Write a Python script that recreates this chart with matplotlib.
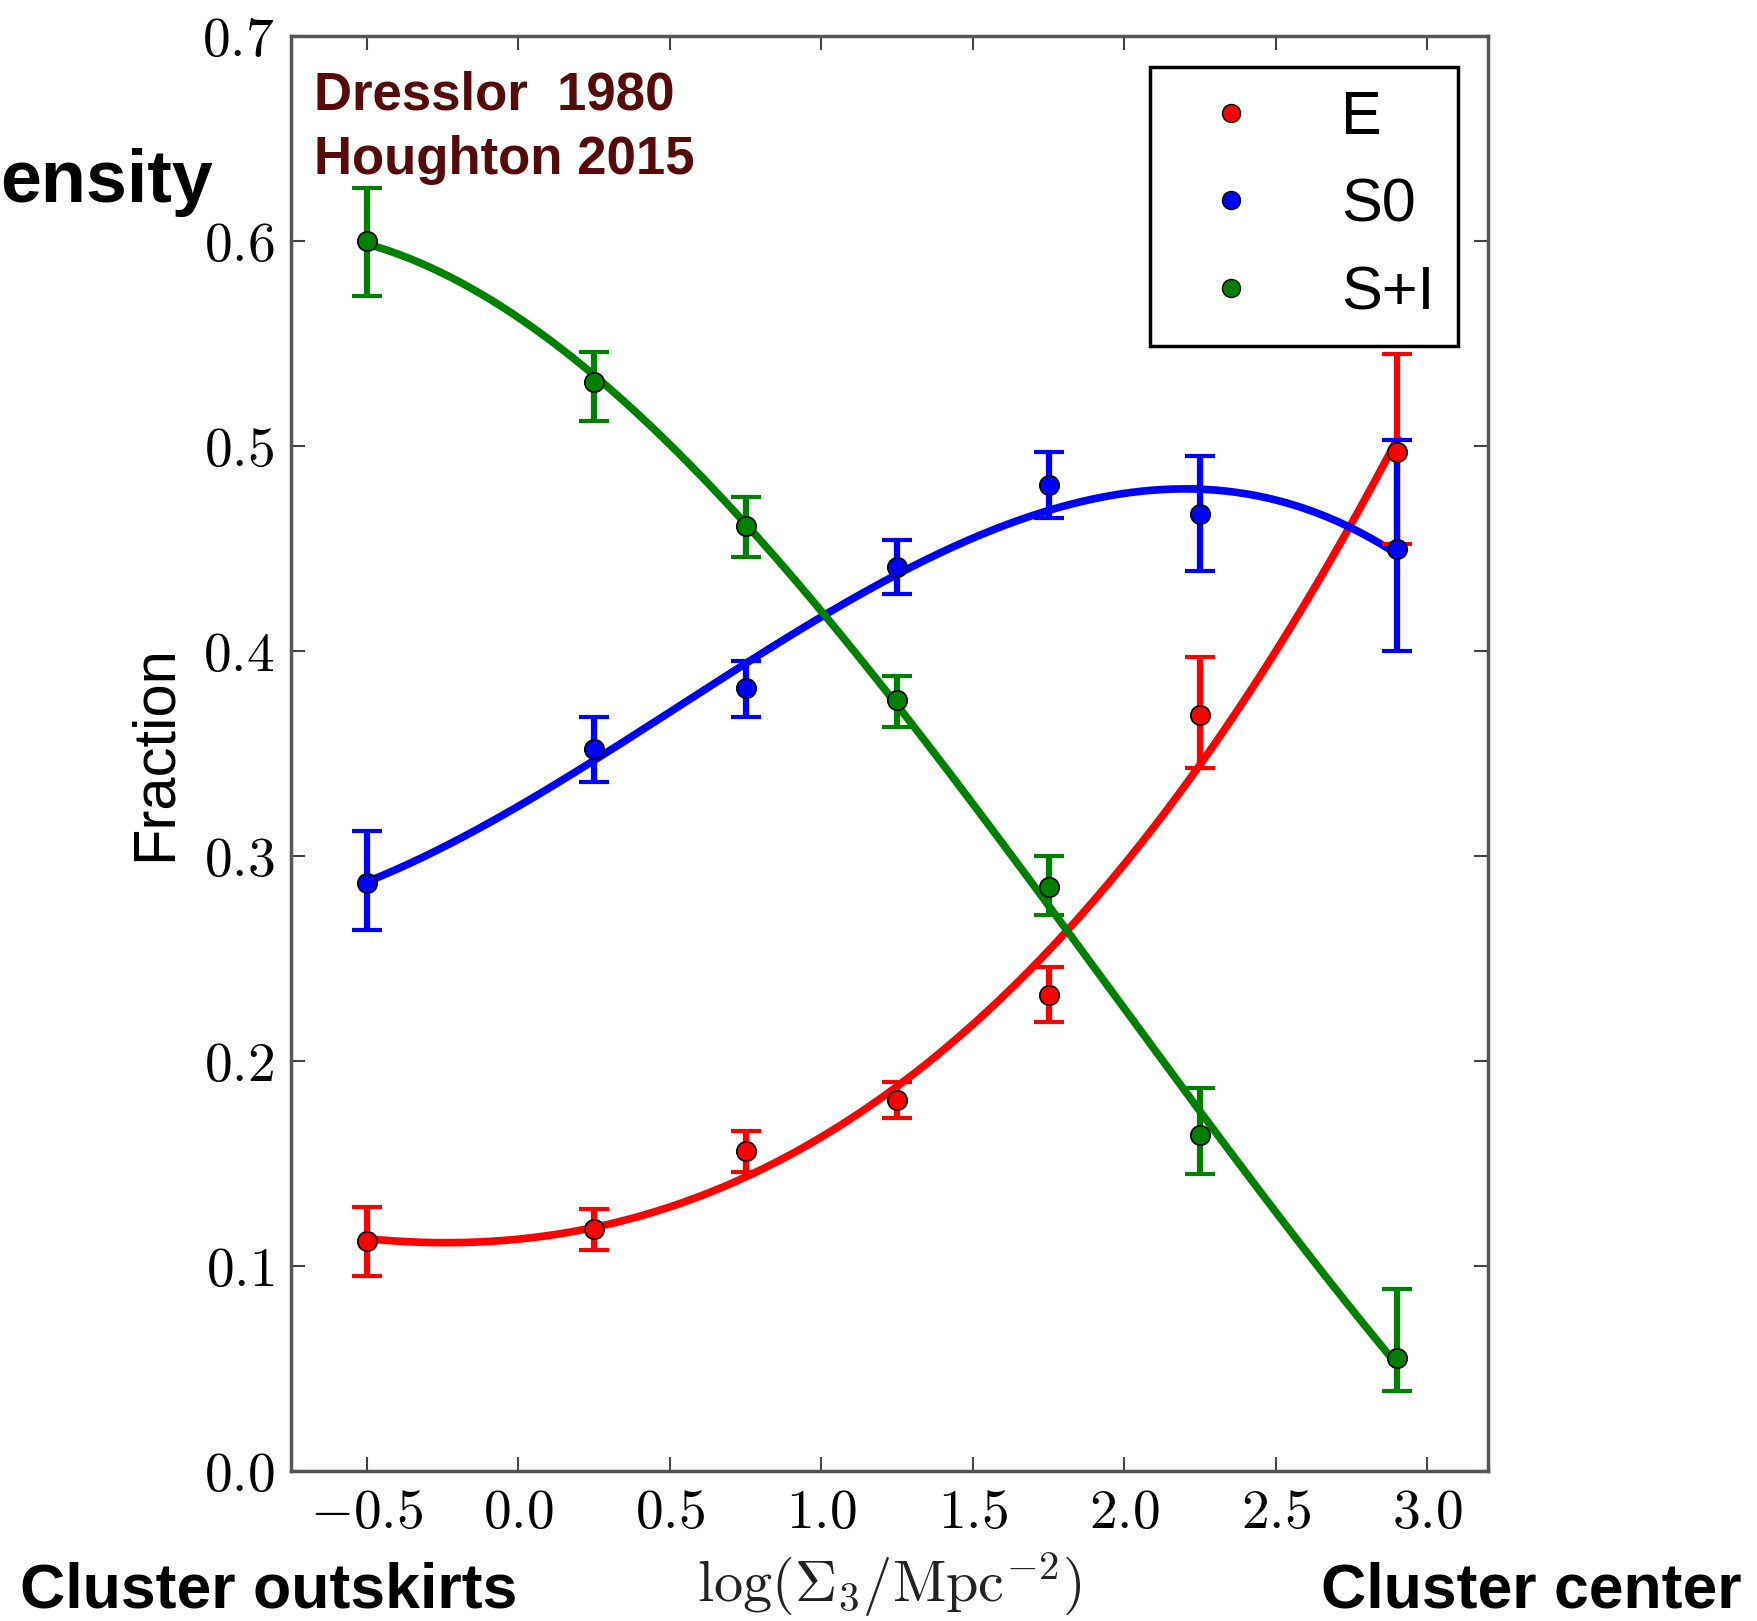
#!/usr/bin/python3

import numpy as np
import matplotlib
matplotlib.use('Agg')
import matplotlib.pyplot as plt
from matplotlib.ticker import MultipleLocator, FuncFormatter
from matplotlib.lines import Line2D

# density bins, log(Sigma_3 / Mpc^-2)
log_sigma = [-0.5, 0.25, 0.75, 1.25, 1.75, 2.25, 2.9]

# morphological fractions
frac_E = [0.112, 0.118, 0.156, 0.181, 0.232, 0.369, 0.497]
err_E_lo = [0.017, 0.010, 0.010, 0.009, 0.013, 0.026, 0.045]
err_E_hi = [0.017, 0.010, 0.010, 0.009, 0.014, 0.028, 0.048]

frac_S0 = [0.287, 0.352, 0.382, 0.441, 0.481, 0.467, 0.450]
err_S0_lo = [0.023, 0.016, 0.014, 0.013, 0.016, 0.028, 0.050]
err_S0_hi = [0.025, 0.016, 0.013, 0.013, 0.016, 0.028, 0.053]

frac_SI = [0.600, 0.531, 0.461, 0.376, 0.285, 0.164, 0.055]
err_SI_lo = [0.027, 0.019, 0.015, 0.013, 0.014, 0.019, 0.016]
err_SI_hi = [0.026, 0.015, 0.014, 0.012, 0.015, 0.023, 0.034]

series = [('E', frac_E, err_E_lo, err_E_hi, '#ff0000'),
          ('S0', frac_S0, err_S0_lo, err_S0_hi, '#0000ff'),
          ('S+I', frac_SI, err_SI_lo, err_SI_hi, '#008000')]


def main():
	plt.rcParams['mathtext.fontset'] = 'cm'
	plt.rcParams['font.family'] = ['Liberation Sans', 'DejaVu Sans']

	fig = plt.figure(figsize=(17.57, 16.21), dpi=100)
	ax = fig.add_axes([0.1656, 0.0925, 0.8469 - 0.1656, 0.9778 - 0.0925])

	x = np.array(log_sigma)
	xs = np.linspace(x[0], x[-1], 300)

	handles = []
	for name, y, lo, hi, col in series:
		y = np.array(y)
		# cubic fit through the points
		coef = np.polyfit(x, y, 3)
		ax.plot(xs, np.polyval(coef, xs), color=col, linewidth=5.5, zorder=2)
		ax.errorbar(x, y, yerr=[lo, hi], fmt='none', ecolor=col,
			elinewidth=4.5, capsize=11, capthick=3, zorder=3)
		ax.plot(x, y, 'o', color=col, markeredgecolor='k', markeredgewidth=1.2,
			markersize=14, zorder=4)
		handles.append(Line2D([], [], marker='o', linestyle='none', color=col,
			markeredgecolor='k', markeredgewidth=1.0, markersize=13, label=name))

	ax.set_xlim(-0.75, 3.2)
	ax.set_ylim(0.0, 0.7)
	ax.xaxis.set_major_locator(MultipleLocator(0.5))
	ax.yaxis.set_major_locator(MultipleLocator(0.1))
	ax.xaxis.set_major_formatter(FuncFormatter(lambda v, p: r'$%.1f$' % v))
	ax.yaxis.set_major_formatter(FuncFormatter(lambda v, p: r'$%.1f$' % v))
	ax.tick_params(direction='in', length=10, width=1.5, color='#444444',
		top=True, right=True, labelsize=40, pad=12)
	for s in ax.spines.values():
		s.set_linewidth(2.5)
		s.set_color('#555555')

	ax.set_ylabel('Fraction', fontsize=43, labelpad=14)
	ax.set_xlabel(r'$\log(\Sigma_3/\mathrm{Mpc}^{-2})$', fontsize=42, color='#222222', labelpad=8)

	leg = ax.legend(handles=handles, loc='upper right', bbox_to_anchor=(0.8298, 0.9587),
		bbox_transform=fig.transFigure, fontsize=44, numpoints=1, fancybox=False,
		framealpha=1, edgecolor='k', handlelength=1.9, handletextpad=0.85,
		labelspacing=0.5, borderpad=0.38, borderaxespad=0)
	leg.get_frame().set_linewidth(2.5)

	ax.text(0.019, 0.949, 'Dresslor  1980', transform=ax.transAxes,
		fontsize=38, fontweight='bold', color='#560a0a', va='baseline', ha='left')
	ax.text(0.019, 0.904, 'Houghton 2015', transform=ax.transAxes,
		fontsize=38, fontweight='bold', color='#560a0a', va='baseline', ha='left')

	# the page this chart was cut from shows only the tail of this word
	fig.text(213 / 1757, 1 - 202 / 1621, 'ensity', fontsize=53, fontweight='bold',
		ha='right', va='baseline')
	fig.text(20 / 1757, 1 - 1591 / 1621, 'Cluster outskirts', fontsize=45,
		fontweight='bold', ha='left', va='center')
	fig.text(1742 / 1757, 1 - 1591 / 1621, 'Cluster center', fontsize=45,
		fontweight='bold', ha='right', va='center')

	fig.savefig('out.png', dpi=100)
	plt.close()


if __name__ == '__main__':
	main()
